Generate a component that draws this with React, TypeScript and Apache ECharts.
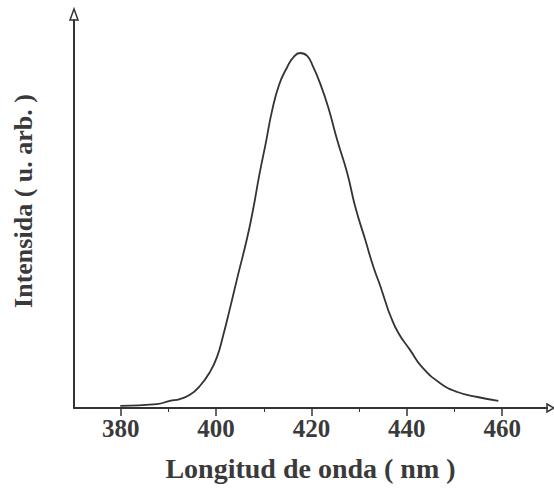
import React, { useEffect, useRef } from "react";
import * as echarts from "echarts";

const wavelengths = [
  379.9, 387.6, 390.3, 392.4, 394.5, 396.6, 398.7, 400.2, 401.5, 402.9, 404.6,
  406.5, 407.8, 409.0, 410.5, 411.7, 413.2, 414.9, 416.2, 417.6, 419.1, 420.3,
  421.8, 423.5, 425.4, 427.5, 429.2, 431.3, 433.0, 434.4, 435.5, 436.5, 438.2,
  440.7, 443.2, 447.0, 450.6, 454.8, 459.2,
];
const intensities = [
  0.006, 0.011, 0.02, 0.025, 0.037, 0.062, 0.101, 0.144, 0.205, 0.28, 0.375,
  0.478, 0.562, 0.652, 0.752, 0.835, 0.91, 0.96, 0.988, 1.0, 0.992, 0.963,
  0.915, 0.848, 0.755, 0.662, 0.566, 0.473, 0.397, 0.345, 0.3, 0.262, 0.212,
  0.163, 0.115, 0.07, 0.045, 0.031, 0.02,
];
const majorTicks = [380, 400, 420, 440, 460];
const minorTicks = [390, 410, 430, 450];

const xTitle = "Longitud de onda ( nm )";
const yTitle = "Intensida ( u. arb. )";

const FONT = "Liberation Serif";
const INK = "#333333";
const TEXT = "#3a3a3a";

export default function App() {
  const ref = useRef<HTMLDivElement>(null);
  useEffect(() => {
    if (!ref.current) return;
    const chart = echarts.init(ref.current, null, { renderer: "svg" });
    const data = wavelengths.map((w, i) => [w, intensities[i]]);
    chart.setOption({
      animation: false,
      backgroundColor: "#ffffff",
      grid: { left: 74, right: 7, top: 20, bottom: 80, containLabel: false },
      xAxis: [
        {
          type: "value",
          min: 370.2,
          max: 469.4,
          splitLine: { show: false },
          axisLine: { show: true, onZero: false, lineStyle: { color: INK, width: 2 } },
          axisTick: {
            show: true,
            customValues: majorTicks,
            length: 8,
            lineStyle: { color: INK, width: 1.5 },
          },
          axisLabel: {
            show: true,
            customValues: majorTicks,
            margin: 8,
            fontFamily: FONT,
            fontWeight: "bold",
            fontSize: 25,
            color: TEXT,
          },
          name: xTitle,
          nameLocation: "middle",
          nameGap: 46,
          nameTextStyle: {
            fontFamily: FONT,
            fontWeight: "bold",
            fontSize: 28,
            color: TEXT,
          },
        },
        {
          type: "value",
          position: "bottom",
          min: 370.2,
          max: 469.4,
          splitLine: { show: false },
          axisLine: { show: false },
          axisLabel: { show: false },
          axisTick: {
            show: true,
            customValues: minorTicks,
            length: 4,
            lineStyle: { color: INK, width: 1 },
          },
        },
      ],
      yAxis: {
        type: "value",
        min: 0,
        max: 1.093,
        splitLine: { show: false },
        axisTick: { show: false },
        axisLabel: { show: false },
        axisLine: { show: true, onZero: false, lineStyle: { color: INK, width: 2 } },
        name: yTitle,
        nameLocation: "middle",
        nameGap: 38,
        nameTextStyle: {
          fontFamily: FONT,
          fontWeight: "bold",
          fontSize: 26,
          color: TEXT,
          padding: [0, 0, 0, 26],
        },
      },
      series: [
        {
          type: "line",
          xAxisIndex: 0,
          data,
          showSymbol: false,
          smooth: 0.5,
          lineStyle: { color: INK, width: 1.8 },
        },
      ],
      graphic: [
        {
          type: "polygon",
          shape: { points: [[74, 9], [70, 20], [78, 20]] },
          style: { fill: "#ffffff", stroke: INK, lineWidth: 1.5 },
        },
        {
          type: "polygon",
          shape: { points: [[547, 404], [554, 408], [547, 412]] },
          style: { fill: "#ffffff", stroke: INK, lineWidth: 1.5 },
        },
      ],
    });
    return () => chart.dispose();
  }, []);
  return (
    <div
      ref={ref}
      style={{ position: "absolute", left: 0, top: 0, width: 554, height: 488 }}
    />
  );
}
